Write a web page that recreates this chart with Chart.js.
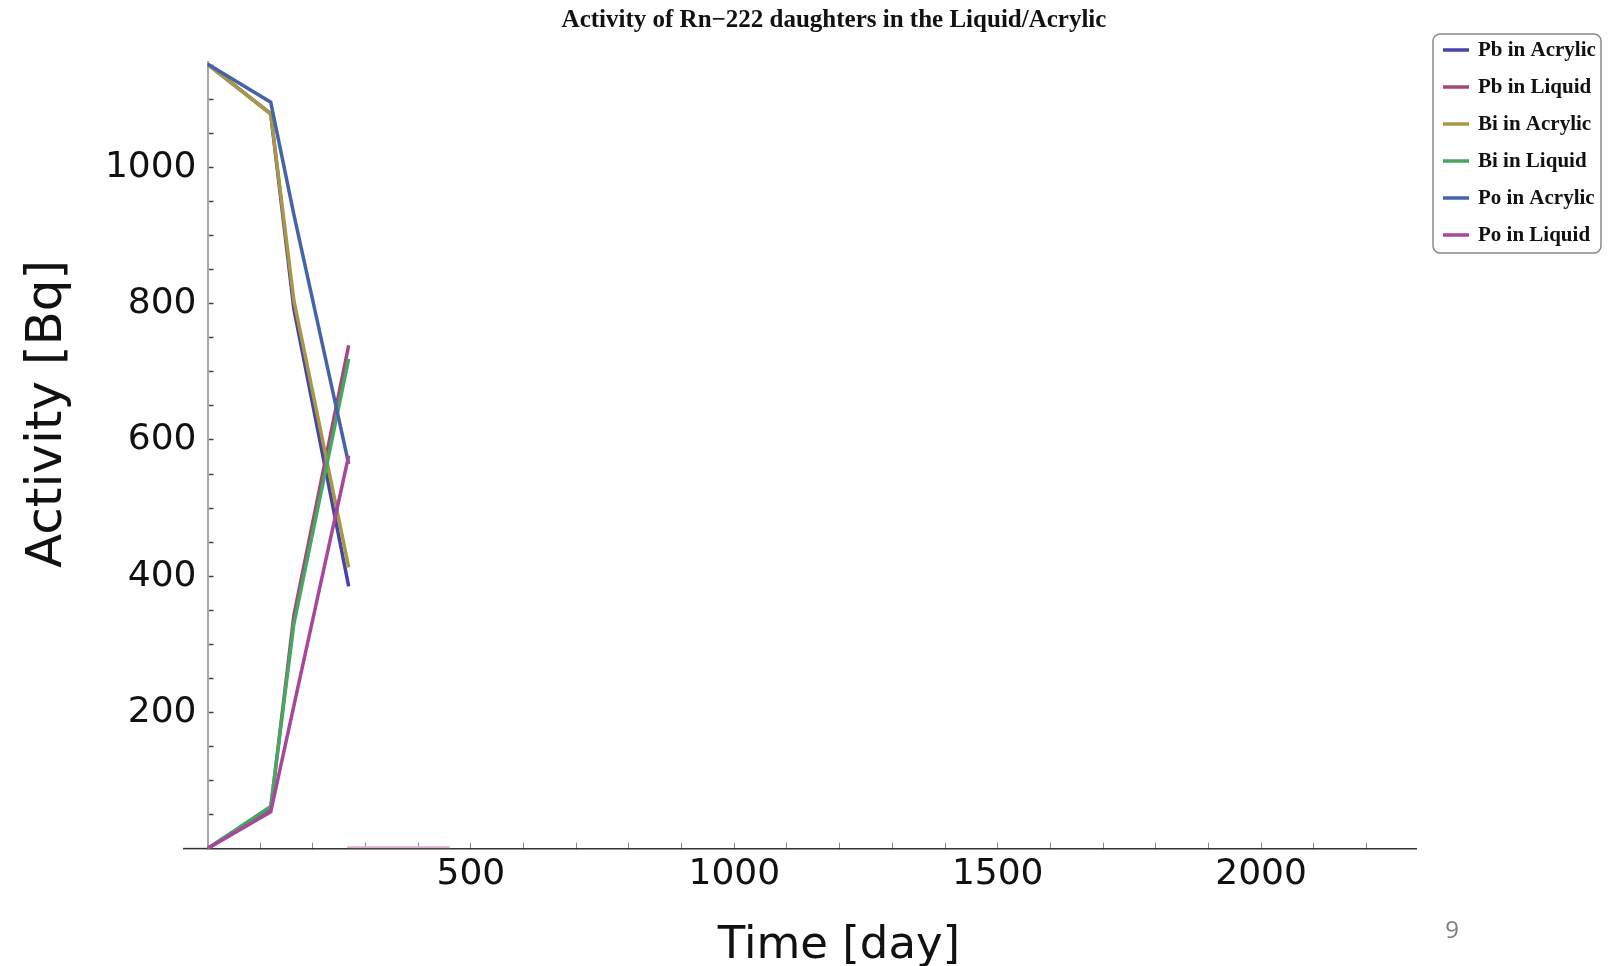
<!DOCTYPE html>
<html>
<head>
<meta charset="utf-8">
<script src="https://cdn.jsdelivr.net/npm/chart.js@4.4.1/dist/chart.umd.min.js"></script>
<style>
  html, body { margin: 0; padding: 0; background: #fff; }
</style>
</head>
<body>
<canvas id="chart" width="1611" height="966"></canvas>
<script>
// time points (day) and activities (Bq)
const days = [0, 120, 164, 268];
const pbAcrylic = [1152, 1079, 792, 385];
const pbLiquid = [0, 58, 343, 739];
const biAcrylic = [1152, 1079, 805, 413];
const biLiquid = [0, 62, 330, 719];
const poAcrylic = [1152, 1096, 931, 565];
const poLiquid = [0, 54, 210, 577];

// faint stub lying on the time axis
const tailDays = [265, 460];
const tailValues = [2, 2];

const seriesNames = ["Pb in Acrylic", "Pb in Liquid", "Bi in Acrylic", "Bi in Liquid", "Po in Acrylic", "Po in Liquid"];
const seriesColors = ["#4545a8", "#a8457e", "#a89845", "#45a860", "#4564a8", "#a8459c"];

const xTickLabels = [500, 1000, 1500, 2000];
const yTickLabels = [200, 400, 600, 800, 1000];
const xMinorStep = 100;
const yMinorStep = 50;

const chartTitle = "Activity of Rn\u2212222 daughters in the Liquid/Acrylic";
const xTitle = "Time [day]";
const yTitle = "Activity [Bq]";
const pageNumber = "9";

const allSeries = [pbAcrylic, pbLiquid, biAcrylic, biLiquid, poAcrylic, poLiquid];

const datasets = allSeries.map((vals, i) => ({
    label: seriesNames[i],
    data: days.map((d, j) => ({ x: d, y: vals[j] })),
    borderColor: seriesColors[i],
    backgroundColor: seriesColors[i],
    borderWidth: 3.5,
    pointRadius: 0,
    tension: 0,
    fill: false,
    order: allSeries.length - i, // later series on top, like the original
}));
datasets.push({
    label: "",
    data: tailDays.map((d, j) => ({ x: d, y: tailValues[j] })),
    borderColor: "#dcaedb",
    borderWidth: 2,
    pointRadius: 0,
    fill: false,
    order: 10,
});

// titles, legend box and the little axis overhang
const decorations = {
    id: "decorations",
    afterDraw(chart) {
        const ctx = chart.ctx;
        const area = chart.chartArea;
        ctx.save();

        // x axis runs a little past the origin
        ctx.strokeStyle = "#333";
        ctx.lineWidth = 1.5;
        ctx.beginPath();
        ctx.moveTo(183, area.bottom);
        ctx.lineTo(area.left, area.bottom);
        ctx.stroke();

        ctx.fillStyle = "#111";
        ctx.textAlign = "center";
        ctx.textBaseline = "middle";
        ctx.font = "bold 25px 'Liberation Serif'";
        ctx.fillText(chartTitle, 834, 21);

        ctx.font = "45px 'DejaVu Sans'";
        ctx.fillText(xTitle, 839, 946);

        ctx.save();
        ctx.translate(48, 414);
        ctx.rotate(-Math.PI / 2);
        ctx.font = "50px 'DejaVu Sans'";
        ctx.fillText(yTitle, 0, 0);
        ctx.restore();

        ctx.fillStyle = "#808080";
        ctx.font = "24px 'Open Sans'";
        ctx.fillText(pageNumber, 1452, 931);

        // legend
        const lx = 1433, ly = 34, lw = 168, lh = 219, r = 7;
        ctx.beginPath();
        ctx.moveTo(lx + r, ly);
        ctx.arcTo(lx + lw, ly, lx + lw, ly + lh, r);
        ctx.arcTo(lx + lw, ly + lh, lx, ly + lh, r);
        ctx.arcTo(lx, ly + lh, lx, ly, r);
        ctx.arcTo(lx, ly, lx + lw, ly, r);
        ctx.closePath();
        ctx.fillStyle = "#fff";
        ctx.fill();
        ctx.strokeStyle = "#8a8a8a";
        ctx.lineWidth = 1.5;
        ctx.stroke();

        ctx.font = "bold 21px 'Liberation Serif'";
        ctx.textAlign = "left";
        chart.data.datasets.slice(0, seriesNames.length).forEach((ds, i) => {
            const y = 50 + i * 37;
            ctx.strokeStyle = ds.borderColor;
            ctx.lineWidth = 3.5;
            ctx.beginPath();
            ctx.moveTo(1443, y);
            ctx.lineTo(1469, y);
            ctx.stroke();
            ctx.fillStyle = "#111";
            ctx.fillText(ds.label, 1478, y + 1);
        });
        ctx.restore();
    },
};

new Chart(document.getElementById("chart"), {
    type: "line",
    data: { datasets: datasets },
    options: {
        responsive: false,
        animation: false,
        devicePixelRatio: 1,
        layout: { padding: { top: 62, right: 195, left: 0, bottom: 0 } },
        plugins: {
            legend: { display: false },
            title: { display: false },
            tooltip: { enabled: false },
        },
        scales: {
            x: {
                type: "linear",
                min: 0,
                max: 2294,
                afterFit: (s) => { s.height = 117.4; },
                afterBuildTicks: (s) => {
                    const t = [];
                    for (let v = xMinorStep; v <= 2200; v += xMinorStep) t.push({ value: v });
                    s.ticks = t;
                },
                ticks: {
                    autoSkip: false,
                    maxRotation: 0,
                    padding: 10,
                    color: "#111",
                    font: { family: "DejaVu Sans", size: 36 },
                    callback: (v) => (xTickLabels.includes(v) ? String(v) : ""),
                },
                grid: { drawOnChartArea: false, tickLength: -6, tickColor: "#888", tickWidth: 1 },
                border: { color: "#333", width: 1.5 },
            },
            y: {
                min: 0,
                max: 1155,
                afterFit: (s) => { s.width = 207.5; },
                afterBuildTicks: (s) => {
                    const t = [];
                    for (let v = yMinorStep; v <= 1150; v += yMinorStep) t.push({ value: v });
                    s.ticks = t;
                },
                ticks: {
                    autoSkip: false,
                    padding: 17,
                    color: "#111",
                    font: { family: "DejaVu Sans", size: 36 },
                    callback: (v) => (yTickLabels.includes(v) ? String(v) : ""),
                },
                grid: { drawOnChartArea: false, tickLength: -6, tickColor: "#444", tickWidth: 1.5 },
                border: { color: "#a8a8a8", width: 2 },
            },
        },
    },
    plugins: [decorations],
});
</script>
</body>
</html>
